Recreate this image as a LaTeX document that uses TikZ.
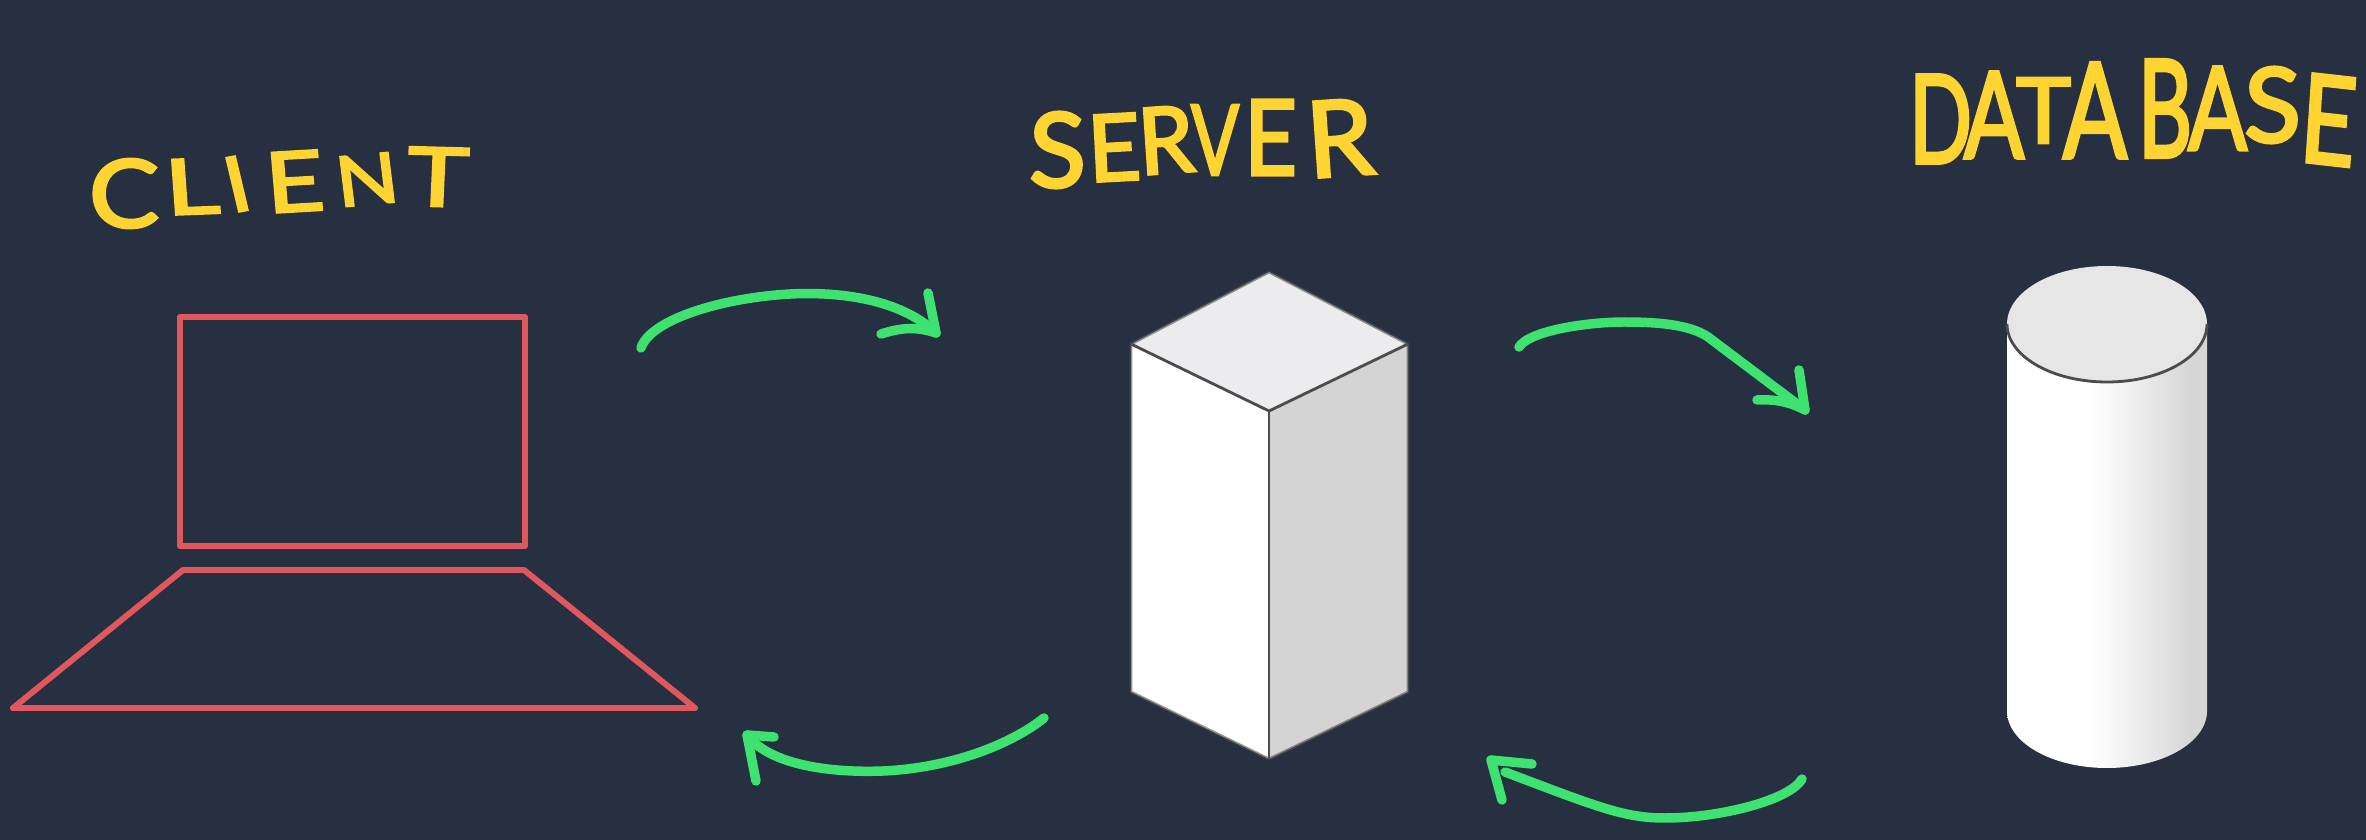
\documentclass[tikz,border=0pt]{standalone}
\usepackage{fontspec}
\usepackage{graphicx}
\setmainfont{Lato}[FakeBold=3]
\definecolor{bgc}{HTML}{263040}
\definecolor{redc}{HTML}{E0575F}
\definecolor{greenc}{HTML}{3DE271}
\definecolor{yellowc}{HTML}{FDD432}
\definecolor{edgec}{HTML}{4C4C4C}
\definecolor{topc}{HTML}{ECECEE}
\definecolor{rightc}{HTML}{D4D4D4}
\definecolor{cyltop}{HTML}{E6E6E6}
\definecolor{cyla}{HTML}{FFFFFF}
\definecolor{cylb}{HTML}{E6E6E6}
\definecolor{cylc}{HTML}{D6D6D6}
\pgfdeclarehorizontalshading{cylshade}{100bp}{color(0bp)=(cyla); color(25bp)=(cyla); color(46bp)=(cyla); color(62bp)=(cylb); color(71bp)=(cylc); color(100bp)=(cylc)}
% one hand-placed letter: gap, width, height, rotation, raise (all in picture pixels), letter
\newcommand{\HL}[6]{\hspace{#1\dimexpr0.01cm\relax}\raisebox{#5\dimexpr0.01cm\relax}{\resizebox{#2\dimexpr0.01cm\relax}{#3\dimexpr0.01cm\relax}{\raisebox{\depth}{\rotatebox{#4}{#6}}}}}
\tikzset{
  outline/.style={draw=redc,line width=1.7pt,line join=round},
  flow/.style={draw=greenc,line width=2.7pt,line cap=round,line join=round},
  edgeline/.style={draw=edgec,line width=0.8pt,line join=round},
  hand/.style={text=yellowc,inner sep=0pt,outer sep=0pt,anchor=base west}
}
\begin{document}
\begin{tikzpicture}[x=0.01cm,y=-0.01cm]
\useasboundingbox (0,0) rectangle (2366,840);
\fill[bgc] (0,0) rectangle (2366,840);

% labels
\node[hand] (client) at (89,228) {\HL{0}{70}{69}{0}{0}{C}\HL{4}{58}{57}{3}{13}{L}\HL{-2}{36}{58}{12}{15}{I}\HL{8}{63}{63}{4}{15}{E}\HL{7}{68}{55}{6}{21}{N}\HL{5}{64}{60}{-2}{21}{T}};
\node[hand] (server) at (1029,188) {\HL{0}{57}{76}{0}{0}{S}\HL{0}{56}{69}{3}{6}{E}\HL{-6}{60}{70}{4}{13}{R}\HL{-5}{48}{70}{0}{13}{V}\HL{5}{53}{75}{0}{13}{E}\HL{7}{72}{80}{4}{10}{R}};
\node[hand] (database) at (1909,167) {\HL{0}{63}{88}{0}{4}{D}\HL{-8}{60}{86}{0}{9}{A}\HL{-8}{55}{65}{0}{24}{T}\HL{-8}{64}{95}{0}{9}{A}\HL{11}{54}{97}{0}{10}{B}\HL{-4}{59}{83}{0}{17}{A}\HL{-3}{57}{76}{0}{24}{S}\HL{-3}{61}{94}{-5}{0}{E}};

% laptop
\coordinate (scrA) at (180,317);
\coordinate (scrB) at (525,546);
\draw[outline] (scrA) rectangle (scrB);
\coordinate (kbA) at (183,570);
\coordinate (kbB) at (524,570);
\coordinate (kbC) at (695,708);
\coordinate (kbD) at (13,708);
\draw[outline] (kbA) -- (kbB) -- (kbC) -- (kbD) -- cycle;

% server
\coordinate (sTop) at (1269,272);
\coordinate (sL) at (1131,344);
\coordinate (sR) at (1408,344);
\coordinate (sC) at (1269,411);
\coordinate (sLB) at (1131,692);
\coordinate (sRB) at (1408,692);
\coordinate (sB) at (1269,759);
\fill[white] (sL) -- (sC) -- (sB) -- (sLB) -- cycle;
\fill[rightc] (sR) -- (sC) -- (sB) -- (sRB) -- cycle;
\fill[topc] (sTop) -- (sR) -- (sC) -- (sL) -- cycle;
\draw[edgeline] (sL) -- (sC) -- (sR);
\draw[edgeline] (sC) -- (sB);
\draw[edgeline,draw opacity=0.6] (sL) -- (sTop) -- (sR) -- (sRB) -- (sB) -- (sLB) -- cycle;

% database
\shade[shading=cylshade] (2007,324) -- (2007,711) arc (180:0:100 and 57) -- (2207,324) arc (0:180:100 and 58) -- cycle;
\fill[cyltop] (2107,324) ellipse (100 and 58);
\draw[edgeline] (2007,324) arc (180:0:100 and 58);

% arrows
\coordinate (a1s) at (641,348);
\coordinate (a1m) at (790,294);
\coordinate (a1t) at (936,333);
\coordinate (a1u) at (928,293);
\coordinate (a1v) at (881,334);
\draw[flow] (a1s) .. controls (650,320) and (720,298) .. (a1m) .. controls (850,291) and (905,303) .. (a1t);
\draw[flow] (a1u) -- (a1t) .. controls (915,326) and (900,328) .. (a1v);

\coordinate (a2s) at (1044,718);
\coordinate (a2m) at (883,771);
\coordinate (a2t) at (747,735);
\coordinate (a2u) at (756,781);
\coordinate (a2v) at (774,737);
\draw[flow] (a2s) .. controls (1010,745) and (950,768) .. (a2m) .. controls (830,773) and (770,765) .. (a2t);
\draw[flow] (a2u) -- (a2t) -- (a2v);

\coordinate (a3s) at (1519,347);
\coordinate (a3m) at (1624,322);
\coordinate (a3k) at (1712,340);
\coordinate (a3t) at (1805,410);
\coordinate (a3u) at (1799,370);
\coordinate (a3v) at (1757,400);
\draw[flow] (a3s) .. controls (1530,330) and (1590,322) .. (a3m) .. controls (1660,322) and (1695,325) .. (a3k) -- (a3t);
\draw[flow] (a3u) -- (a3t) .. controls (1790,402) and (1775,399) .. (a3v);

\coordinate (a4s) at (1802,779);
\coordinate (a4m) at (1665,818);
\coordinate (a4e) at (1505,772);
\coordinate (a4t) at (1491,760);
\coordinate (a4u) at (1502,800);
\coordinate (a4v) at (1532,764);
\draw[flow] (a4s) .. controls (1790,800) and (1720,818) .. (a4m) .. controls (1625,818) and (1600,808) .. (a4e);
\draw[flow] (a4u) -- (a4t) -- (a4v);
\end{tikzpicture}
\end{document}
